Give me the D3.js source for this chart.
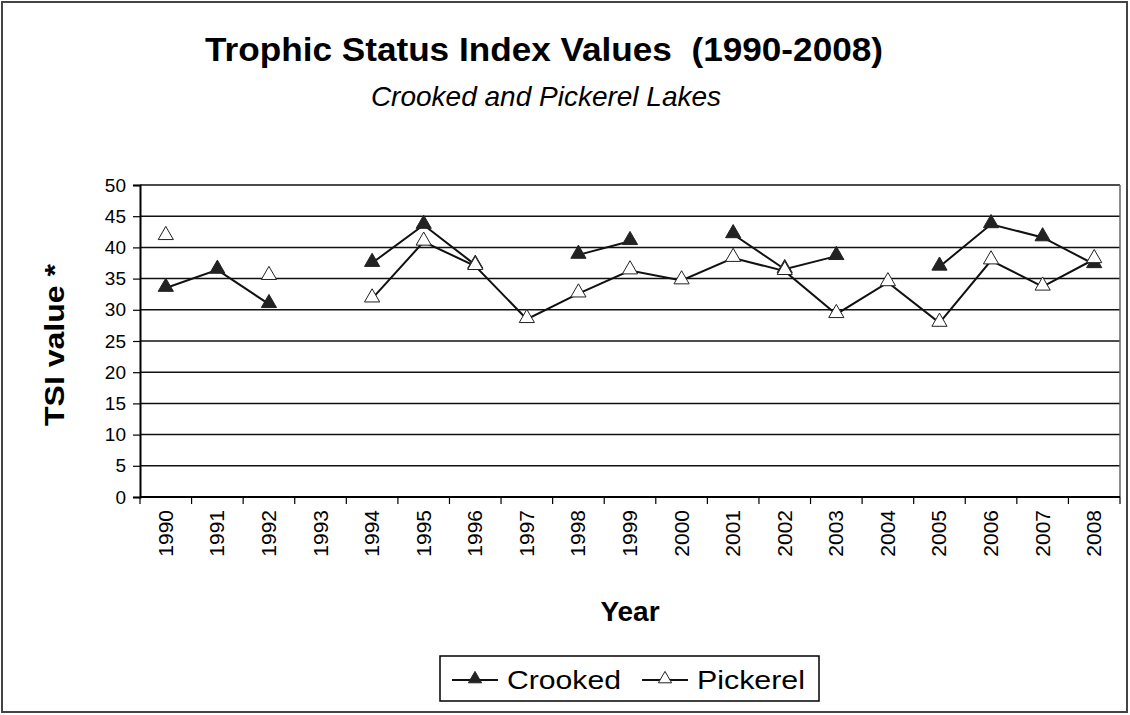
<!DOCTYPE html>
<html>
<head>
<meta charset="utf-8">
<script src="https://cdn.jsdelivr.net/npm/d3@7"></script>
<style>
body { margin: 0; background: #fff; }
text { font-family: "Liberation Sans", Arial, sans-serif; fill: #000; }
</style>
</head>
<body>
<div id="chart"></div>
<script>

var years = ["1990", "1991", "1992", "1993", "1994", "1995", "1996", "1997", "1998", "1999",
    "2000", "2001", "2002", "2003", "2004", "2005", "2006", "2007", "2008"];

// null = no sample that year (line breaks)
var crooked = [33.5, 36.4, 30.9, null, 37.5, 43.6, 37.2, null, 38.8, 41.0,
    null, 42.1, 36.5, 38.6, null, 36.9, 43.7, 41.6, 37.3];

var pickerel = [41.8, null, 35.4, null, 31.8, 40.9, 37.0, 28.5, 32.6, 36.3,
    34.7, 38.3, 36.2, 29.3, 34.4, 27.9, 37.9, 33.7, 38.1];

var yTicks = [0, 5, 10, 15, 20, 25, 30, 35, 40, 45, 50];

var series = [
    {name: "Crooked", values: crooked, fill: "#222"},
    {name: "Pickerel", values: pickerel, fill: "#fff"}
];

var W = 1130, H = 715;
var margin = {top: 185, right: 10, bottom: 218, left: 140};
var width = W - margin.left - margin.right,
    height = H - margin.top - margin.bottom;

var svg = d3.select("#chart").append("svg")
    .attr("width", W)
    .attr("height", H);

// outer frame
svg.append("rect")
    .attr("x", 2).attr("y", 2)
    .attr("width", W - 5).attr("height", H - 5)
    .attr("fill", "none")
    .attr("stroke", "#444")
    .attr("stroke-width", 2);

svg.append("text")
    .attr("x", 205).attr("y", 61)
    .attr("textLength", 678)
    .attr("lengthAdjust", "spacingAndGlyphs")
    .style("font-size", "33px")
    .style("font-weight", "bold")
    .style("white-space", "pre")
    .text("Trophic Status Index Values  (1990-2008)");

svg.append("text")
    .attr("x", 546).attr("y", 106)
    .attr("text-anchor", "middle")
    .style("font-size", "28px")
    .style("font-style", "italic")
    .text("Crooked and Pickerel Lakes");

var g = svg.append("g")
    .attr("transform", "translate(" + margin.left + "," + margin.top + ")");

var x = d3.scaleBand().domain(years).range([0, width]);
var y = d3.scaleLinear().domain([0, 50]).range([height, 0]);

// gridlines
g.selectAll("line.grid")
    .data(yTicks.slice(1))
    .enter().append("line")
    .attr("class", "grid")
    .attr("x1", 0).attr("x2", width)
    .attr("y1", function (d) { return y(d); })
    .attr("y2", function (d) { return y(d); })
    .attr("stroke", "#111")
    .attr("stroke-width", 1.5);

// right border of plot area
g.append("line")
    .attr("x1", width).attr("x2", width)
    .attr("y1", 0).attr("y2", height)
    .attr("stroke", "#666")
    .attr("stroke-width", 1.5);

// y axis
var yAxis = g.append("g")
    .call(d3.axisLeft(y).tickValues(yTicks).tickSize(7).tickPadding(7));
yAxis.select(".domain").attr("stroke", "#000").attr("stroke-width", 2);
yAxis.selectAll(".tick line").attr("stroke", "#000").attr("stroke-width", 1.2);
yAxis.selectAll("text").style("font-size", "19px");

// x axis, ticks between categories
var xAxisG = g.append("g").attr("transform", "translate(0," + height + ")");
xAxisG.append("line")
    .attr("x1", 0).attr("x2", width)
    .attr("stroke", "#000").attr("stroke-width", 2);
xAxisG.selectAll("line.xt")
    .data(years.concat(["end"]))
    .enter().append("line")
    .attr("class", "xt")
    .attr("x1", function (d, i) { return i * x.step(); })
    .attr("x2", function (d, i) { return i * x.step(); })
    .attr("y1", 0).attr("y2", 7)
    .attr("stroke", "#000").attr("stroke-width", 1.2);
xAxisG.selectAll("text.xl")
    .data(years)
    .enter().append("text")
    .attr("class", "xl")
    .attr("transform", function (d) {
        return "translate(" + (x(d) + x.bandwidth() / 2 + 7) + ",13) rotate(-90)";
    })
    .attr("text-anchor", "end")
    .style("font-size", "21px")
    .text(function (d) { return d; });

svg.append("text")
    .attr("transform", "translate(64,345) rotate(-90)")
    .attr("text-anchor", "middle")
    .attr("textLength", 162)
    .attr("lengthAdjust", "spacingAndGlyphs")
    .style("font-size", "28px")
    .style("font-weight", "bold")
    .text("TSI value *");

svg.append("text")
    .attr("x", 630).attr("y", 621)
    .attr("text-anchor", "middle")
    .style("font-size", "28px")
    .style("font-weight", "bold")
    .text("Year");

var line = d3.line()
    .defined(function (d) { return d != null; })
    .x(function (d, i) { return x(years[i]) + x.bandwidth() / 2; })
    .y(function (d) { return y(d); });

var tri = d3.symbol().type(d3.symbolTriangle).size(100);

series.forEach(function (s) {
    g.append("path")
        .datum(s.values)
        .attr("fill", "none")
        .attr("stroke", "#111")
        .attr("stroke-width", 2)
        .attr("d", line);
});

series.forEach(function (s) {
    g.selectAll("path.m-" + s.name)
        .data(s.values.map(function (v, i) { return {v: v, i: i}; })
            .filter(function (d) { return d.v != null; }))
        .enter().append("path")
        .attr("class", "m-" + s.name)
        .attr("transform", function (d) {
            return "translate(" + (x(years[d.i]) + x.bandwidth() / 2) + "," + (y(d.v) - 1) + ")";
        })
        .attr("d", tri)
        .attr("fill", s.fill)
        .attr("stroke", "#222")
        .attr("stroke-width", 1);
});

// legend
var lg = svg.append("g").attr("transform", "translate(440,656)");
lg.append("rect")
    .attr("width", 379).attr("height", 45)
    .attr("fill", "#fff")
    .attr("stroke", "#000")
    .attr("stroke-width", 1.5);

var legendX = [12, 202];
var legendLen = [114, 108];
series.forEach(function (s, i) {
    var item = lg.append("g").attr("transform", "translate(" + legendX[i] + ",24)");
    item.append("line")
        .attr("x1", 0).attr("x2", 46)
        .attr("stroke", "#111").attr("stroke-width", 2);
    item.append("path")
        .attr("transform", "translate(23,-1)")
        .attr("d", d3.symbol().type(d3.symbolTriangle).size(75))
        .attr("fill", s.fill)
        .attr("stroke", "#222");
    item.append("text")
        .attr("x", 55).attr("y", 9)
        .attr("textLength", legendLen[i])
        .attr("lengthAdjust", "spacingAndGlyphs")
        .style("font-size", "25px")
        .text(s.name);
});

</script>
</body>
</html>
